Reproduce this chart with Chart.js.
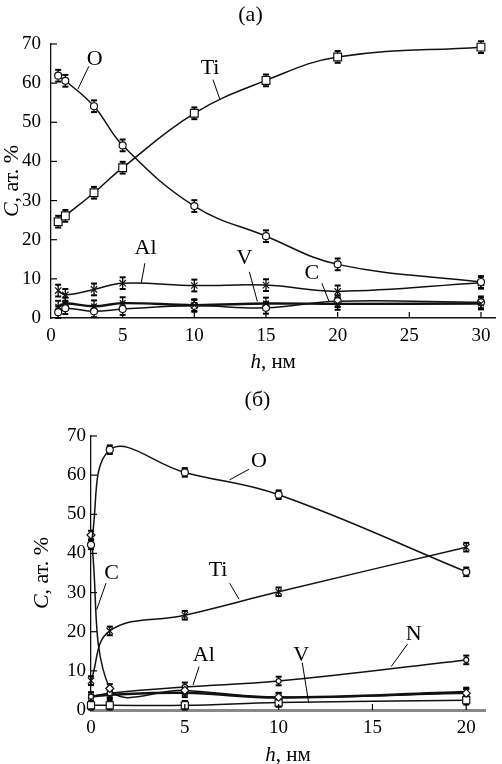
<!DOCTYPE html>
<html>
<head>
<meta charset="utf-8">
<script src="https://cdn.jsdelivr.net/npm/chart.js@4.4.1/dist/chart.umd.min.js"></script>
<style>
  html, body { margin: 0; padding: 0; background: #fff; width: 502px; height: 764px; overflow: hidden; }
  .box { position: absolute; }
  #boxA { left: 0; top: 0; width: 502px; height: 375px; }
  #boxB { left: 30px; top: 380px; width: 472px; height: 384px; }
</style>
</head>
<body>
<div class="box" id="boxA"><canvas id="chartA"></canvas></div>
<div class="box" id="boxB"><canvas id="chartB"></canvas></div>
<script>
// (а) depth, nm, and concentrations, at.%
const depthA = [0.5, 1, 3, 5, 10, 15, 20, 30];
const tiA = [24.6, 26.1, 32.0, 38.4, 52.3, 60.7, 66.7, 69.2];
const oA  = [61.9, 60.6, 54.1, 44.1, 28.6, 20.9, 13.7, 9.2];
const alA = [7.0, 5.9, 7.3, 8.9, 8.3, 8.4, 6.8, 9.0];
const vA  = [2.9, 3.7, 3.0, 3.8, 3.3, 3.7, 3.6, 3.7];
const cA  = [1.5, 2.5, 1.7, 2.3, 3.1, 2.6, 4.3, 4.0];
const errA = 1.5;
const xTicksA = [0, 5, 10, 15, 20, 25, 30];

// (б)
const depthB = [0, 1, 5, 10, 20];
const oB  = [42.2, 66.5, 60.7, 55.0, 35.3];
const tiB = [7.5, 20.2, 24.2, 30.2, 41.6];
const cB  = [44.7, 5.5, 5.0, 3.3, 4.3];
const nB  = [3.4, 4.3, 5.9, 7.4, 12.8];
const alB = [3.4, 3.9, 4.4, 3.2, 4.6];
const vB  = [1.2, 1.2, 1.2, 1.9, 2.5];
const errB = 1.1;
const xTicksB = [0, 5, 10, 15, 20];

const yTicks = [0, 10, 20, 30, 40, 50, 60, 70];

// curve labels with leader lines, in data units: text spot, line from, line to
const notesA = [
    { text: 'O',  at: [3.05, 66.0], from: [2.64, 64.3], to: [1.88, 58.5] },
    { text: 'Ti', at: [11.1, 63.9], from: [11.3, 60.9], to: [11.77, 56.0] },
    { text: 'Al', at: [6.6, 17.8],  from: [6.55, 14.0], to: [6.3, 9.0] },
    { text: 'V',  at: [13.5, 15.3], from: [13.84, 11.8], to: [14.4, 4.2] },
    { text: 'C',  at: [18.2, 11.4], from: [18.9, 8.9],  to: [19.4, 4.2] }
];
const notesB = [
    { text: 'O',  at: [8.95, 63.5], from: [8.42, 61.5], to: [7.39, 58.8] },
    { text: 'Ti', at: [6.77, 35.8], from: [7.39, 32.4], to: [7.89, 28.3] },
    { text: 'C',  at: [1.1, 34.9],  from: [0.8, 32.4],  to: [0.3, 25.6] },
    { text: 'N',  at: [17.2, 19.4], from: [16.88, 16.9], to: [16.0, 11.1] },
    { text: 'Al', at: [6.01, 14.1], from: [5.76, 11.1], to: [5.44, 6.4] },
    { text: 'V',  at: [11.2, 14.1], from: [11.26, 12.1], to: [11.6, 1.9] }
];

const SERIF = "'Liberation Serif', 'Times New Roman', serif";
Chart.defaults.font.family = SERIF;
Chart.defaults.color = '#000';

function series(label, xs, ys, err, style) {
    return Object.assign({
        label,
        data: xs.map((x, i) => ({ x, y: ys[i] })),
        err,
        borderColor: '#111',
        borderWidth: 1.5,
        pointBorderColor: '#111',
        pointBackgroundColor: '#fff',
        pointBorderWidth: 1.2,
        pointRadius: 3.5,
        tension: 0.4,
        clip: 10
    }, style);
}

function line(ctx, x1, y1, x2, y2) {
    ctx.beginPath();
    ctx.moveTo(x1, y1);
    ctx.lineTo(x2, y2);
    ctx.stroke();
}

// text pieces with their own font, centred on (x, y)
function drawParts(ctx, parts, x, y) {
    let w = 0;
    parts.forEach(p => { ctx.font = p[1]; w += ctx.measureText(p[0]).width; });
    let cx = x - w / 2;
    ctx.textAlign = 'left';
    ctx.textBaseline = 'middle';
    parts.forEach(p => {
        ctx.font = p[1];
        ctx.fillText(p[0], cx, y);
        cx += ctx.measureText(p[0]).width;
    });
}

const extras = {
    id: 'extras',
    beforeDatasetsDraw(chart) {
        // error bars, under the markers
        const ctx = chart.ctx, ys = chart.scales.y;
        ctx.save();
        ctx.strokeStyle = '#000';
        chart.data.datasets.forEach((ds, i) => {
            if (!ds.err) return;
            chart.getDatasetMeta(i).data.forEach((pt, j) => {
                const v = ds.data[j].y;
                const top = ys.getPixelForValue(v + ds.err);
                const bot = ys.getPixelForValue(Math.max(0, v - ds.err));
                ctx.lineWidth = 1.3;
                line(ctx, pt.x, top, pt.x, bot);
                ctx.lineWidth = 2;
                line(ctx, pt.x - 3, top, pt.x + 3, top);
                line(ctx, pt.x - 3, bot, pt.x + 3, bot);
            });
        });
        ctx.restore();
    },
    afterDraw(chart, args, opts) {
        const ctx = chart.ctx, xs = chart.scales.x, ys = chart.scales.y;
        const area = chart.chartArea;
        ctx.save();
        ctx.fillStyle = '#000';
        ctx.strokeStyle = '#000';

        // inward tick marks
        ctx.lineWidth = 1.2;
        xs.ticks.forEach(t => {
            if (t.value === 0) return;
            const px = xs.getPixelForValue(t.value);
            line(ctx, px, area.bottom, px, area.bottom - opts.tickLen);
        });
        ys.ticks.forEach(t => {
            if (t.value === 0) return;
            const py = ys.getPixelForValue(t.value);
            line(ctx, area.left, py, area.left + opts.tickLen, py);
        });

        // axis titles
        drawParts(ctx, [['h', 'italic 21px ' + SERIF], [', нм', '21px ' + SERIF]],
            (area.left + area.right) / 2, area.bottom + opts.xTitleDy);
        ctx.save();
        ctx.translate(area.left - opts.yTitleDx, (area.top + area.bottom) / 2);
        ctx.rotate(-Math.PI / 2);
        drawParts(ctx, [['C', 'italic 22px ' + SERIF], [', ат. %', '22px ' + SERIF]], 0, 0);
        ctx.restore();

        // curve labels
        ctx.font = '22px ' + SERIF;
        ctx.textAlign = 'center';
        ctx.textBaseline = 'middle';
        ctx.lineWidth = 1;
        opts.notes.forEach(n => {
            ctx.fillText(n.text, xs.getPixelForValue(n.at[0]), ys.getPixelForValue(n.at[1]));
            line(ctx, xs.getPixelForValue(n.from[0]), ys.getPixelForValue(n.from[1]),
                xs.getPixelForValue(n.to[0]), ys.getPixelForValue(n.to[1]));
        });
        ctx.restore();
    }
};

function makeChart(id, p) {
    return new Chart(document.getElementById(id), {
        type: 'line',
        data: { datasets: p.datasets },
        plugins: [extras],
        options: {
            responsive: true,
            maintainAspectRatio: false,
            devicePixelRatio: 1,
            animation: false,
            events: [],
            layout: { padding: { left: 0, right: p.padRight, top: 0, bottom: 0 } },
            plugins: {
                legend: { display: false },
                tooltip: { enabled: false },
                title: {
                    display: true,
                    text: p.title,
                    color: '#000',
                    font: { size: 22, weight: 'normal' },
                    padding: p.titlePad
                },
                extras: { tickLen: 6, xTitleDy: p.xTitleDy, yTitleDx: p.yTitleDx, notes: p.notes }
            },
            scales: {
                x: {
                    type: 'linear',
                    min: 0,
                    max: p.xMax,
                    afterBuildTicks: s => { s.ticks = p.xTicks.map(v => ({ value: v })); },
                    afterFit: s => { s.height = p.xHeight; },
                    grid: { display: false, drawTicks: false },
                    border: { color: p.xBorder, width: p.xBorderWidth },
                    ticks: { padding: 7, font: { size: 19 }, maxRotation: 0, autoSkip: false }
                },
                y: {
                    type: 'linear',
                    min: 0,
                    max: 70,
                    afterBuildTicks: s => { s.ticks = yTicks.map(v => ({ value: v })); },
                    afterFit: s => { s.width = p.yWidth; },
                    grid: { display: false, drawTicks: false },
                    border: { color: '#111', width: 1.3 },
                    ticks: { padding: p.yPad, font: { size: 19 }, autoSkip: false }
                }
            }
        }
    });
}

makeChart('chartA', {
    title: '(а)',
    titlePad: { top: 2, bottom: 15.6 },
    padRight: 1,
    xMax: 31,
    xTicks: xTicksA,
    xHeight: 57,
    yWidth: 51,
    yPad: 10,
    xBorder: '#111',
    xBorderWidth: 1.5,
    xTitleDy: 44,
    yTitleDx: 39,
    notes: notesA,
    datasets: [
        series('Ti', depthA, tiA, errA, { pointStyle: 'rect', pointRadius: 5.5 }),
        series('O', depthA, oA, errA, { pointStyle: 'circle' }),
        series('Al', depthA, alA, errA, { pointStyle: 'crossRot', pointRadius: 4.5 }),
        series('V', depthA, vA, errA, { pointStyle: 'crossRot', pointRadius: 4, borderWidth: 2.4 }),
        series('C', depthA, cA, errA, { pointStyle: 'circle' })
    ]
});

makeChart('chartB', {
    title: '(б)',
    titlePad: { top: 6.8, bottom: 22.8 },
    padRight: 17,
    xMax: 21,
    xTicks: xTicksB,
    xHeight: 54,
    yWidth: 61,
    yPad: 5,
    xBorder: '#888',
    xBorderWidth: 3,
    xTitleDy: 45,
    yTitleDx: 49,
    notes: notesB,
    datasets: [
        series('O', depthB, oB, errB, { pointStyle: 'circle' }),
        series('Ti', depthB, tiB, errB, { pointStyle: 'crossRot', pointRadius: 4.5 }),
        series('C', depthB, cB, errB, { pointStyle: 'rectRot', pointRadius: 4 }),
        series('N', depthB, nB, errB, { pointStyle: 'circle', pointRadius: 2.5 }),
        series('Al', depthB, alB, errB, { pointStyle: 'crossRot', pointRadius: 4, borderWidth: 2.5 }),
        series('V', depthB, vB, errB, { pointStyle: 'rect', pointRadius: 5 })
    ]
});
</script>
</body>
</html>
